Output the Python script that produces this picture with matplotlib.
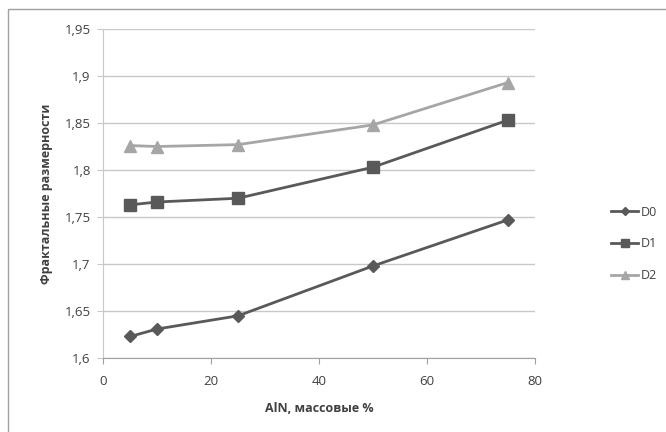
import matplotlib.pyplot as plt
from matplotlib.patches import Rectangle
from matplotlib.ticker import FuncFormatter

aln = [5, 10, 25, 50, 75]
d0 = [1.623, 1.631, 1.645, 1.698, 1.747]
d1 = [1.763, 1.766, 1.770, 1.803, 1.853]
d2 = [1.826, 1.825, 1.827, 1.848, 1.893]

plt.rcParams['font.family'] = ['Open Sans', 'DejaVu Sans']

fig = plt.figure(figsize=(6.66, 4.32), dpi=100)
ax = fig.add_axes([0.155, 0.171, 0.648, 0.762])

ax.plot(aln, d0, color='#595959', lw=2, marker='D', ms=6, label='D0')
ax.plot(aln, d1, color='#595959', lw=2, marker='s', ms=8, label='D1')
ax.plot(aln, d2, color='#a6a6a6', lw=2, marker='^', ms=8, label='D2')

ax.set_xlim(0, 80)
ax.set_ylim(1.6, 1.95)
ax.set_xticks([0, 20, 40, 60, 80])
ax.set_yticks([1.6, 1.65, 1.7, 1.75, 1.8, 1.85, 1.9, 1.95])
ax.yaxis.set_major_formatter(FuncFormatter(lambda v, p: f'{v:.2f}'.rstrip('0').rstrip('.').replace('.', ',')))

ax.grid(axis='y', color='#c8c8c8', lw=1)
ax.set_axisbelow(True)
for s in ['top', 'right']:
    ax.spines[s].set_visible(False)
ax.spines['left'].set_color('#c8c8c8')
ax.spines['bottom'].set_color('#a0a0a0')
ax.tick_params(axis='y', length=4, color='#c8c8c8', labelsize=9.5, labelcolor='#404040', pad=5)
ax.tick_params(axis='x', length=4, color='#a0a0a0', labelsize=9.5, labelcolor='#404040', pad=8)

ax.set_xlabel('AlN, массовые %', fontsize=9, fontweight='bold', color='#404040', labelpad=10)
ax.set_ylabel('Фрактальные размерности', fontsize=9, fontweight='bold', color='#404040', labelpad=8)

ax.legend(loc='center left', bbox_to_anchor=(1.15, 0.347), frameon=False, fontsize=9,
          handlelength=2.2, labelspacing=1.5, handletextpad=0.2, markerscale=0.75,
          labelcolor='#404040')

fig.patches.append(Rectangle((0.012, -0.1), 1.2, 1.079, transform=fig.transFigure,
                             fill=False, edgecolor='#a0a0a0', lw=1))

fig.savefig('out.png', dpi=100)
